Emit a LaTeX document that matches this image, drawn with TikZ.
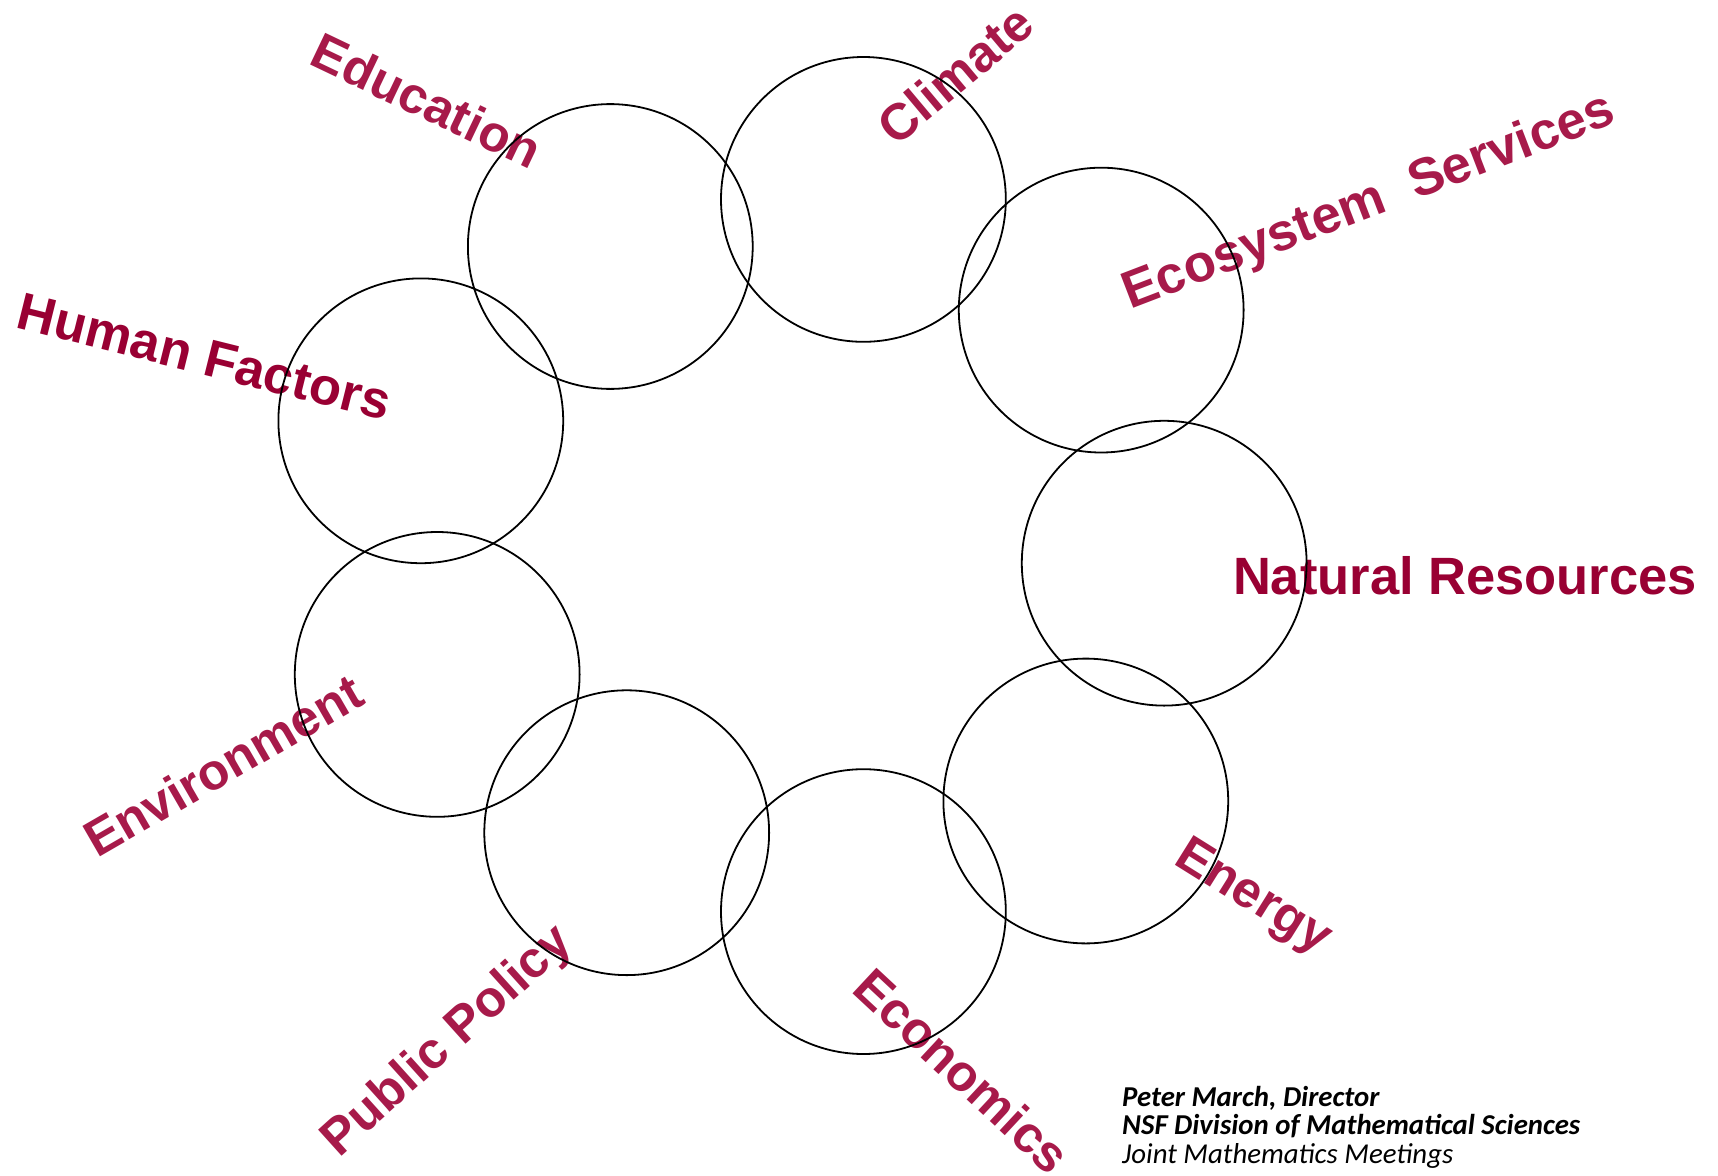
\documentclass[tikz,border=0pt]{standalone}
\usepackage{fontspec}
\setmainfont{Liberation Sans}
\newfontfamily\sigfont{Carlito}
\usepackage{tikz}
\definecolor{topicred}{HTML}{A71A4A}
\definecolor{topicdark}{HTML}{990033}
\tikzstyle{ring}=[draw, circle, line width=1.8pt, minimum size=284.8pt, inner sep=0pt]
\tikzstyle{topic}=[anchor=base, inner sep=0pt, text=topicred, font=\bfseries\fontsize{51}{60}\selectfont]
\tikzstyle{sig}=[anchor=base west, inner sep=0pt, font=\sigfont\fontsize{28.8}{29}\selectfont]

\begin{document}
\begin{tikzpicture}[x=1pt,y=-1pt]
\useasboundingbox[fill=white] (0,0) rectangle (1718,1175);
% topic names, set on their baselines
\node[topic, rotate=-25.5] (education) at (419,117) {Education};
\node[topic, rotate=40] (climate) at (967,88) {Climate};
\node[topic, rotate=21, font=\bfseries\fontsize{52.5}{60}\selectfont] (ecosystem) at (1374,216) {Ecosystem\ \ Services};
\node[topic, text=topicdark, font=\bfseries\fontsize{52.5}{60}\selectfont] (natural) at (1465,594) {Natural Resources};
\node[topic, rotate=-32] (energy) at (1246,909) {Energy};
\node[topic, rotate=-43] (economics) at (950,1084) {Economics};
\node[topic, rotate=42] (policy) at (457,1052) {Public Policy};
\node[topic, rotate=30] (environment) at (232,781) {Environment};
\node[topic, text=topicdark, rotate=-14, font=\bfseries\fontsize{52.5}{60}\selectfont] (human) at (200,374) {Human Factors};
% ring of circles
\node[ring] (c-edu) at (610.3,246.5) {};
\node[ring] (c-cli) at (863.4,199.4) {};
\node[ring] (c-eco) at (1101.2,310.1) {};
\node[ring] (c-nat) at (1164.2,563.2) {};
\node[ring] (c-ene) at (1085.8,801.0) {};
\node[ring] (c-ecn) at (863.4,911.6) {};
\node[ring] (c-pol) at (626.7,832.7) {};
\node[ring] (c-env) at (437.2,674.4) {};
\node[ring] (c-hum) at (420.8,420.8) {};
% signature
\node[sig] (sig1) at (1122,1106) {\bfseries\itshape Peter March, Director};
\node[sig] (sig2) at (1122,1134.5) {\bfseries\itshape NSF Division of Mathematical Sciences};
\node[sig] (sig3) at (1122,1163) {\itshape Joint Mathematics Meetings};
\end{tikzpicture}
\end{document}
